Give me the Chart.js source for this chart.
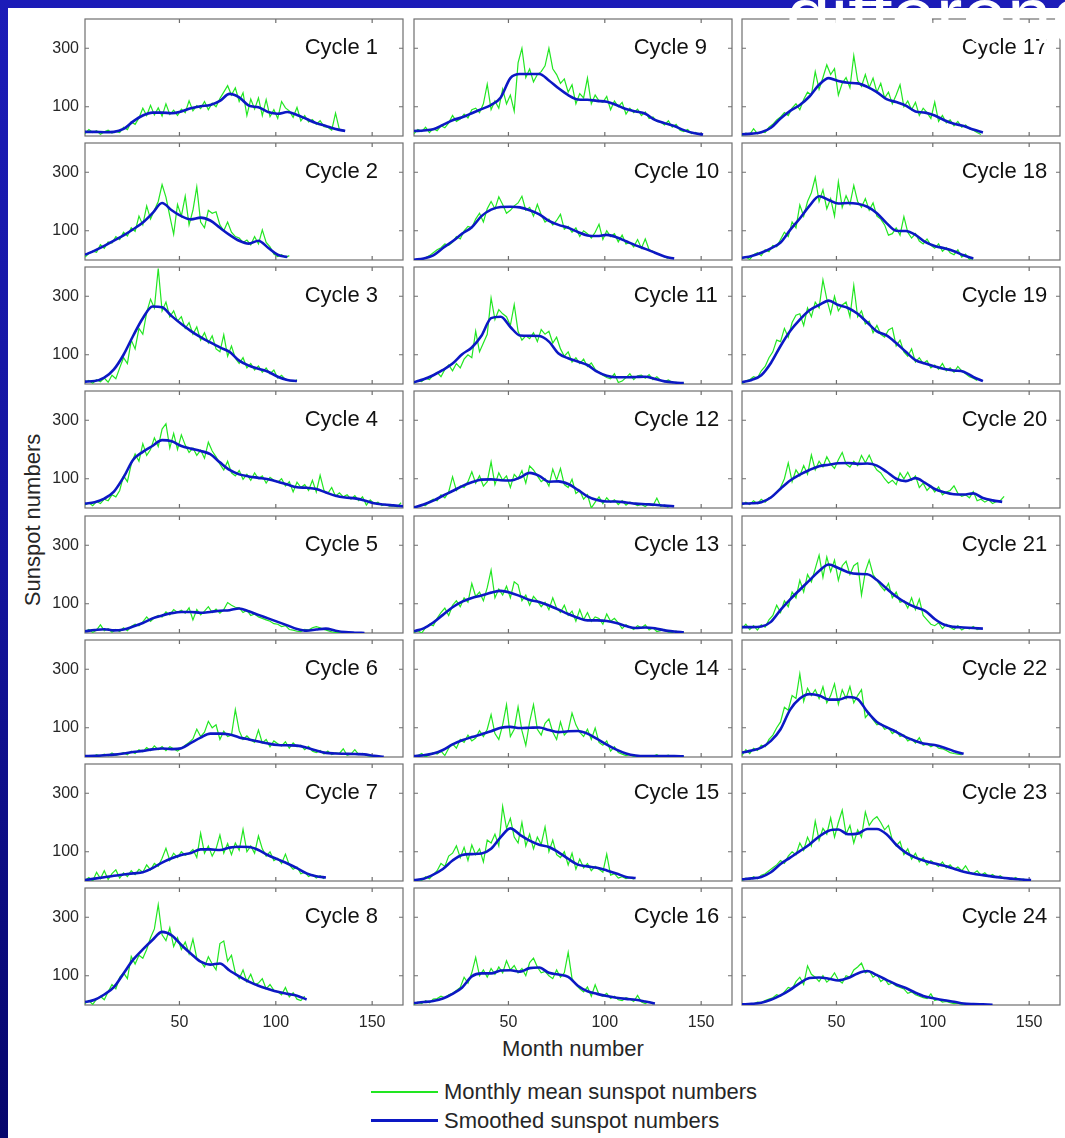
<!DOCTYPE html>
<html>
<head>
<meta charset="utf-8">
<title>Sunspot cycles 1-24</title>
<script src="https://cdn.jsdelivr.net/npm/chart.js@4.4.1/dist/chart.umd.min.js"></script>
<style>
  html, body { margin: 0; padding: 0; }
  body {
    width: 1065px; height: 1138px; position: relative; overflow: hidden;
    background: linear-gradient(180deg, #1c1cb8 0%, #14149c 50%, #06066c 100%);
    font-family: "Liberation Sans", Arial, Helvetica, sans-serif;
  }
  #sheet { position: absolute; left: 8px; top: 8px; right: 0; bottom: 0; background: #fff; }
  canvas { position: absolute; }
  .txt { position: absolute; color: #262626; font-size: 22px; white-space: nowrap; line-height: 26px; }
  .swatch { position: absolute; }
  #heading {
    position: absolute; left: 786px; top: -24px; color: #fff; font-size: 80px;
    line-height: 80px; white-space: nowrap; z-index: 5;
  }
</style>
</head>
<body>
<div id="sheet"></div>
<div class="txt" style="left:573px;top:1049px;transform:translate(-50%,-50%)">Month number</div>
<div class="txt" style="left:33px;top:520px;transform:translate(-50%,-50%) rotate(-90deg)">Sunspot numbers</div>
<div class="swatch" style="left:371px;top:1091px;width:67px;height:2px;background:#22e622"></div>
<div class="txt" style="left:444px;top:1092px;transform:translateY(-50%)">Monthly mean sunspot numbers</div>
<div class="swatch" style="left:371px;top:1119px;width:67px;height:3px;background:#0c18c4"></div>
<div class="txt" style="left:444px;top:1121px;transform:translateY(-50%)">Smoothed sunspot numbers</div>
<div id="heading">difference</div>
<script>
// Panel titles and axis ticks
const cycleLabels = Array.from({length: 24}, (_, k) => 'Cycle ' + (k + 1));
const monthTicks = [50, 100, 150];
const countTicks = [100, 300];
const monthStep = 2;   // monthly means, every other month from month 1
const smoothStep = 5;  // smoothed curve, every fifth month from month 1

// Monthly mean sunspot numbers per cycle
const monthly1 = [8,22,12,18,6,14,20,10,16,12, 30,22,48,40,62,95,70,105,72,96, 68,110,74,88,70,92,80,120,86,104, 94,118,90,112,100,128,150,172,140,165, 118,148,70,126,92,130,70,124,66,90, 60,118,96,86,64,98,52,70,48,56, 40,52,32,30,20,78,22,18];
const monthly2 = [10,22,30,26,52,40,62,58,80,70, 95,82,110,98,150,120,185,140,170,200, 258,215,150,88,190,150,218,120,170,250, 130,110,170,160,165,120,100,130,95,80, 75,60,68,52,80,55,103,60,45,20, 12,18,8,15];
const monthly3 = [5,12,3,15,8,20,6,30,18,55, 90,70,150,120,190,170,245,290,260,395, 250,280,230,250,215,230,190,210,170,195, 150,175,140,165,120,110,168,95,130,88, 70,90,55,70,48,62,40,55,35,48, 20,30,15,12,8,14];
const monthly4 = [10,18,8,22,15,30,25,45,38,60, 110,90,150,185,160,220,180,200,240,210, 270,288,205,255,200,250,215,190,205,180, 198,170,225,195,175,150,130,160,120,110, 128,98,115,95,120,100,110,85,105,95, 88,100,75,90,55,88,70,80,60,95, 55,112,60,50,70,40,52,38,45,30, 42,25,38,10,28,15,20,8,12,6, 8,4,18];
const monthly5 = [4,12,2,10,28,8,15,3,12,5, 18,8,22,30,25,38,55,40,52,60, 55,72,62,80,70,78,68,86,45,80, 62,75,90,70,82,68,80,104,95,88, 86,70,78,60,65,55,50,45,40,32, 30,22,25,12,10,6,5,12,10,18, 22,18,12,8,4,2,3,1,0,0, 1,0,0];
const monthly6 = [2,5,0,8,3,10,4,14,6,10, 15,8,20,12,25,18,32,22,38,25, 36,22,35,28,20,30,40,50,62,95, 70,85,122,100,110,60,88,70,75,162, 90,60,72,58,50,92,48,60,35,55, 45,38,52,30,48,35,40,25,36,20, 15,22,10,20,8,14,12,28,6,10, 25,8,12,5,3,0,2];
const monthly7 = [2,12,0,30,8,35,5,25,38,10, 28,15,35,22,40,30,55,38,60,50, 78,112,70,95,80,100,88,95,108,80, 163,95,120,85,110,157,95,128,90,130, 105,176,100,120,95,154,110,85,100,70, 78,60,92,55,40,48,25,30,15,22, 10,18,8];
const monthly8 = [5,15,2,20,30,18,45,70,55,95, 110,90,166,140,170,160,190,230,260,343, 240,220,264,200,230,190,215,175,225,160, 150,130,165,140,120,210,219,150,170,110, 90,120,80,105,70,75,90,55,70,50, 45,35,60,28,42,20,15,30];
const monthly9 = [8,22,15,30,12,25,18,35,28,45, 70,50,58,75,62,90,95,80,110,177, 90,120,95,160,110,140,85,250,300,200, 229,185,210,220,240,300,230,210,180,195, 150,175,110,145,130,198,110,140,120,115, 135,90,120,100,115,75,95,80,92,70, 82,60,65,50,48,38,52,30,40,20, 15,22,8,12,5];
const monthly10 = [0,3,0,8,15,25,35,42,55,50, 60,80,72,100,115,110,140,160,130,175, 200,175,216,190,160,170,185,195,218,170, 180,150,190,155,130,140,120,135,156,105, 115,95,110,80,100,90,75,95,122,70, 100,80,90,62,85,55,60,45,70,40, 72,35,30,22,18,10,5];
const monthly11 = [3,12,8,20,15,30,40,25,50,65, 45,70,55,85,100,90,181,110,140,170, 294,220,254,240,230,200,271,180,150,165, 155,175,145,186,170,180,140,160,120,95, 110,75,90,70,85,60,72,50,40,30, 22,18,35,5,10,22,35,15,28,30, 20,32,15,25,12,8,14,5,6,3, 2];
const monthly12 = [0,5,10,8,22,30,25,45,35,55, 107,60,75,70,90,124,85,110,75,90, 158,80,120,95,110,70,115,100,128,85, 144,130,110,90,100,75,133,95,135,80, 70,98,50,60,30,45,0,20,38,15, 35,20,28,12,25,10,20,15,8,12, 5,15,8,34,5,10,2];
const monthly13 = [2,8,0,18,30,25,50,70,85,60, 95,110,90,120,105,169,125,140,110,155, 215,120,150,130,160,120,175,165,110,130, 95,125,110,90,105,80,120,85,70,95, 60,75,40,80,45,70,40,55,50,30, 65,40,50,35,15,28,20,12,25,18, 28,10,18,5,8,12,3,2,6,0, 1];
const monthly14 = [0,5,12,0,8,15,10,20,5,30, 45,30,60,50,75,55,65,90,70,95, 145,80,60,110,179,70,95,171,90,40, 120,179,95,75,115,130,85,60,120,75, 90,150,110,85,70,95,60,99,50,40, 55,20,35,15,10,5,8,2,0,5, 3,0,2,8,0,3,6,0,4,2, 1];
const monthly15 = [0,5,2,15,8,22,35,60,50,85, 95,120,80,115,70,123,90,110,65,140, 130,160,120,255,180,214,150,130,200,120, 160,110,150,125,185,100,140,90,80,100, 55,95,40,75,45,60,35,50,40,30, 92,20,25,10,15,8,12,6];
const monthly16 = [2,10,5,15,8,20,22,30,25,35, 40,50,60,95,75,110,163,100,120,95, 125,105,130,110,151,120,135,110,125,100, 145,160,130,110,115,100,90,120,95,110, 180,90,70,55,45,62,30,69,35,30, 40,22,30,18,15,25,20,12,33,10, 5,12,3];
const monthly17 = [2,10,5,25,8,15,12,30,40,55, 65,80,70,95,110,90,125,150,140,220, 160,200,243,210,230,140,180,200,165,275, 190,170,210,165,198,150,180,130,150,110, 140,175,100,120,90,115,70,95,80,60, 116,50,70,45,55,35,50,30,38,25, 20,12,5];
const monthly18 = [5,10,2,18,25,15,35,28,50,45, 70,95,80,130,110,188,150,200,230,282, 200,240,175,210,150,267,180,220,190,255, 200,180,210,170,195,150,140,120,85,90, 110,85,148,95,75,90,65,55,72,50, 40,55,30,42,25,18,35,10,20,2, 5];
const monthly19 = [2,10,15,25,20,45,60,90,110,150, 145,190,160,210,235,240,200,260,230,280, 260,356,290,240,300,250,270,280,230,337, 230,250,205,215,175,200,170,160,185,192, 130,150,110,95,120,75,90,70,80,55, 65,50,70,45,55,40,60,45,35,25, 20,12];
const monthly20 = [10,20,12,25,15,30,20,35,40,55, 70,100,154,90,130,110,145,115,181,130, 160,140,175,150,135,165,190,150,140,160, 145,180,155,181,150,130,120,100,85,95, 80,120,100,122,95,110,70,85,60,75, 55,72,45,55,60,76,50,40,45,35, 56,25,30,20,28,15,22,25,40];
const monthly21 = [15,30,12,25,10,28,20,45,60,95, 70,110,90,140,120,180,140,200,175,220, 266,190,260,210,249,180,230,245,200,230, 240,130,210,249,200,180,160,145,170,120, 140,105,110,85,120,80,116,60,45,30, 25,35,15,30,20,12,25,10,18,14, 22,12,16];
const monthly22 = [5,25,12,30,22,40,35,60,75,100, 120,170,160,210,200,284,190,235,210,230, 200,240,185,210,250,180,230,200,241,185, 210,230,135,150,128,110,115,95,100,80, 90,70,75,55,62,48,66,40,45,35, 42,30,28,22,15,12,10,8];
const monthly23 = [2,10,5,15,8,20,25,35,45,55, 70,60,85,100,90,130,105,150,120,205, 140,180,160,216,150,200,242,160,190,130, 175,150,236,190,210,220,200,175,190,140, 120,135,90,110,75,95,65,80,55,70, 60,50,65,45,55,40,48,35,52,30, 25,35,20,28,15,22,12,18,8,10, 5,12,3,6,2];
const monthly24 = [0,2,5,3,10,8,15,20,25,35, 30,45,60,55,80,95,70,134,105,95, 80,100,78,90,110,85,75,100,95,120, 130,143,110,117,95,105,80,90,70,75, 65,60,55,40,45,35,30,25,22,38, 15,20,10,12,8,5,6,2,3,1, 2,0,1,0,1];

// Smoothed sunspot numbers per cycle
const smoothed1 = [14,14,13,14,24,50,70,80,80,78,84,95,102,106,120,144,132,104,98,82,76,82,72,58,44,34,24,17];
const smoothed2 = [18,32,48,66,84,105,128,160,195,170,150,139,145,135,110,86,66,56,66,42,18,10];
const smoothed3 = [8,10,22,50,100,165,225,265,262,232,205,181,160,142,125,110,80,63,52,42,25,14,10];
const smoothed4 = [15,20,32,56,105,165,192,212,232,228,212,203,195,184,156,130,115,108,103,98,90,80,71,69,65,53,42,36,33,26,16,12,9,6];
const smoothed5 = [6,10,13,9,12,22,34,50,60,68,72,72,69,72,76,78,84,74,62,50,38,26,14,8,12,15,8,3,1,0];
const smoothed6 = [3,4,6,8,12,17,21,26,29,27,30,48,66,80,80,77,67,60,53,46,41,40,39,32,22,14,12,11,10,9,4,1];
const smoothed7 = [3,8,13,18,22,26,30,44,63,78,89,96,108,108,106,114,117,116,106,88,74,60,44,26,16,12];
const smoothed8 = [10,18,36,61,108,155,190,222,250,238,205,175,148,138,142,118,98,80,66,55,45,38,32,19];
const smoothed9 = [17,19,23,38,54,64,78,92,106,132,198,212,212,212,190,163,140,125,124,120,117,106,92,84,76,55,44,34,20,10,5];
const smoothed10 = [1,5,16,41,64,90,112,150,172,181,182,180,170,156,134,120,110,96,84,82,86,78,64,50,38,25,12,5];
const smoothed11 = [6,16,30,48,70,102,125,165,225,230,195,166,165,164,145,104,88,77,65,42,28,23,23,24,25,17,9,5,3];
const smoothed12 = [2,12,25,42,58,75,88,97,98,95,94,104,120,110,90,91,82,62,40,27,22,22,19,15,13,11,8,6];
const smoothed13 = [6,16,36,62,88,107,120,128,138,144,138,126,113,106,94,80,65,52,43,43,41,34,24,17,19,16,9,5,2];
const smoothed14 = [3,6,12,24,43,57,68,78,88,100,103,99,100,101,92,85,88,89,80,62,42,25,12,5,3,3,3,3,2];
const smoothed15 = [3,8,22,41,70,89,92,94,110,150,180,158,138,124,116,98,76,56,50,45,36,26,14,10];
const smoothed16 = [7,10,14,22,38,60,98,108,108,118,119,114,126,128,110,104,96,66,47,38,31,25,21,18,12,5];
const smoothed17 = [6,8,13,28,60,86,106,135,175,198,188,182,180,168,150,126,116,104,84,80,70,54,42,34,22,12];
const smoothed18 = [7,14,25,40,60,103,142,185,218,205,193,195,192,182,160,126,100,99,86,62,48,40,30,16,5];
const smoothed19 = [6,14,30,72,130,181,220,252,270,285,270,260,240,210,180,166,140,110,82,70,60,51,46,42,24,10];
const smoothed20 = [15,16,20,36,66,94,114,130,143,148,153,154,151,152,145,124,100,92,102,86,65,54,47,46,50,34,26,21];
const smoothed21 = [20,20,22,38,79,115,148,180,212,234,222,208,202,201,181,152,125,104,88,76,48,28,21,19,17,15];
const smoothed22 = [15,22,32,55,95,162,200,215,210,196,196,205,198,155,120,102,86,68,55,45,41,32,20,11];
const smoothed23 = [6,9,14,30,58,80,102,125,152,172,176,160,162,178,178,160,124,97,80,68,60,52,42,32,25,20,15,11,8,5,3];
const smoothed24 = [2,4,8,18,33,52,75,92,94,90,84,92,108,116,102,86,70,58,42,29,22,16,11,5,3,2,1];

const monthlySeries = [monthly1, monthly2, monthly3, monthly4, monthly5, monthly6, monthly7, monthly8,
  monthly9, monthly10, monthly11, monthly12, monthly13, monthly14, monthly15, monthly16,
  monthly17, monthly18, monthly19, monthly20, monthly21, monthly22, monthly23, monthly24];
const smoothedSeries = [smoothed1, smoothed2, smoothed3, smoothed4, smoothed5, smoothed6, smoothed7, smoothed8,
  smoothed9, smoothed10, smoothed11, smoothed12, smoothed13, smoothed14, smoothed15, smoothed16,
  smoothed17, smoothed18, smoothed19, smoothed20, smoothed21, smoothed22, smoothed23, smoothed24];

// Page layout of the 3 x 8 grid of panels
const panelLefts = [85, 414, 742];
const rowTops = [19, 143, 267, 391, 516, 640, 764, 888];
const panelW = 318, panelH = 117;

const GREEN = '#22e622', BLUE = '#0c18c4', FRAME = '#6f6f6f', INK = '#262626';
Chart.defaults.font.family = '"Liberation Sans", Arial, Helvetica, sans-serif';

const toPoints = (vals, step) => vals.map((v, k) => ({x: 1 + k * step, y: v}));

// Box around each panel, inward tick marks on all sides, and the cycle title
function panelDecor(title) {
  return {
    id: 'panelDecor',
    beforeDatasetsDraw(chart) {
      const {ctx, chartArea: a, scales: {x, y}} = chart;
      ctx.save();
      ctx.strokeStyle = FRAME;
      ctx.lineWidth = 1.2;
      ctx.strokeRect(a.left, a.top, a.right - a.left, a.bottom - a.top);
      ctx.beginPath();
      monthTicks.forEach(v => {
        const px = x.getPixelForValue(v);
        ctx.moveTo(px, a.bottom); ctx.lineTo(px, a.bottom - 4);
        ctx.moveTo(px, a.top); ctx.lineTo(px, a.top + 4);
      });
      countTicks.forEach(v => {
        const py = y.getPixelForValue(v);
        ctx.moveTo(a.left, py); ctx.lineTo(a.left + 4, py);
        ctx.moveTo(a.right, py); ctx.lineTo(a.right - 4, py);
      });
      ctx.stroke();
      ctx.restore();
    },
    afterDatasetsDraw(chart) {
      const {ctx, scales: {x, y}} = chart;
      ctx.save();
      ctx.fillStyle = '#111';
      ctx.font = '22px "Liberation Sans", Arial, sans-serif';
      ctx.textAlign = 'left';
      ctx.textBaseline = 'middle';
      ctx.fillText(title, x.getPixelForValue(115), y.getPixelForValue(300));
      ctx.restore();
    }
  };
}

for (let i = 0; i < 24; i++) {
  const col = Math.floor(i / 8), row = i % 8;
  const padL = col === 0 ? 60 : 3, padR = 3, padT = 3, padB = row === 7 ? 34 : 3;
  const cv = document.createElement('canvas');
  cv.width = panelW + padL + padR;
  cv.height = panelH + padT + padB;
  cv.style.left = (panelLefts[col] - padL) + 'px';
  cv.style.top = (rowTops[row] - padT) + 'px';
  document.body.appendChild(cv);

  new Chart(cv, {
    type: 'line',
    data: {
      datasets: [
        {label: 'Smoothed sunspot numbers', data: toPoints(smoothedSeries[i], smoothStep),
         borderColor: BLUE, borderWidth: 2.6, pointRadius: 0, cubicInterpolationMode: 'monotone', order: 0},
        {label: 'Monthly mean sunspot numbers', data: toPoints(monthlySeries[i], monthStep),
         borderColor: GREEN, borderWidth: 1.2, pointRadius: 0, tension: 0, order: 1}
      ]
    },
    options: {
      responsive: false, animation: false, devicePixelRatio: 1, events: [],
      layout: {padding: {top: padT, right: padR, left: 0, bottom: 0}},
      plugins: {legend: {display: false}, tooltip: {enabled: false}},
      scales: {
        x: {
          type: 'linear', min: 1, max: 166,
          grid: {display: false, drawTicks: false}, border: {display: false},
          afterBuildTicks: s => { s.ticks = monthTicks.map(v => ({value: v})); },
          afterFit: s => { s.height = padB; s.paddingLeft = 0; s.paddingRight = 0; },
          ticks: {display: row === 7, padding: 8, color: INK, font: {size: 16}, maxRotation: 0, autoSkip: false}
        },
        y: {
          type: 'linear', min: 0, max: 400,
          grid: {display: false, drawTicks: false}, border: {display: false},
          afterBuildTicks: s => { s.ticks = countTicks.map(v => ({value: v})); },
          afterFit: s => { s.width = padL; s.paddingTop = 0; s.paddingBottom = 0; },
          ticks: {display: col === 0, padding: 6, color: INK, font: {size: 16}, autoSkip: false}
        }
      }
    },
    plugins: [panelDecor(cycleLabels[i])]
  });
}
</script>
</body>
</html>
